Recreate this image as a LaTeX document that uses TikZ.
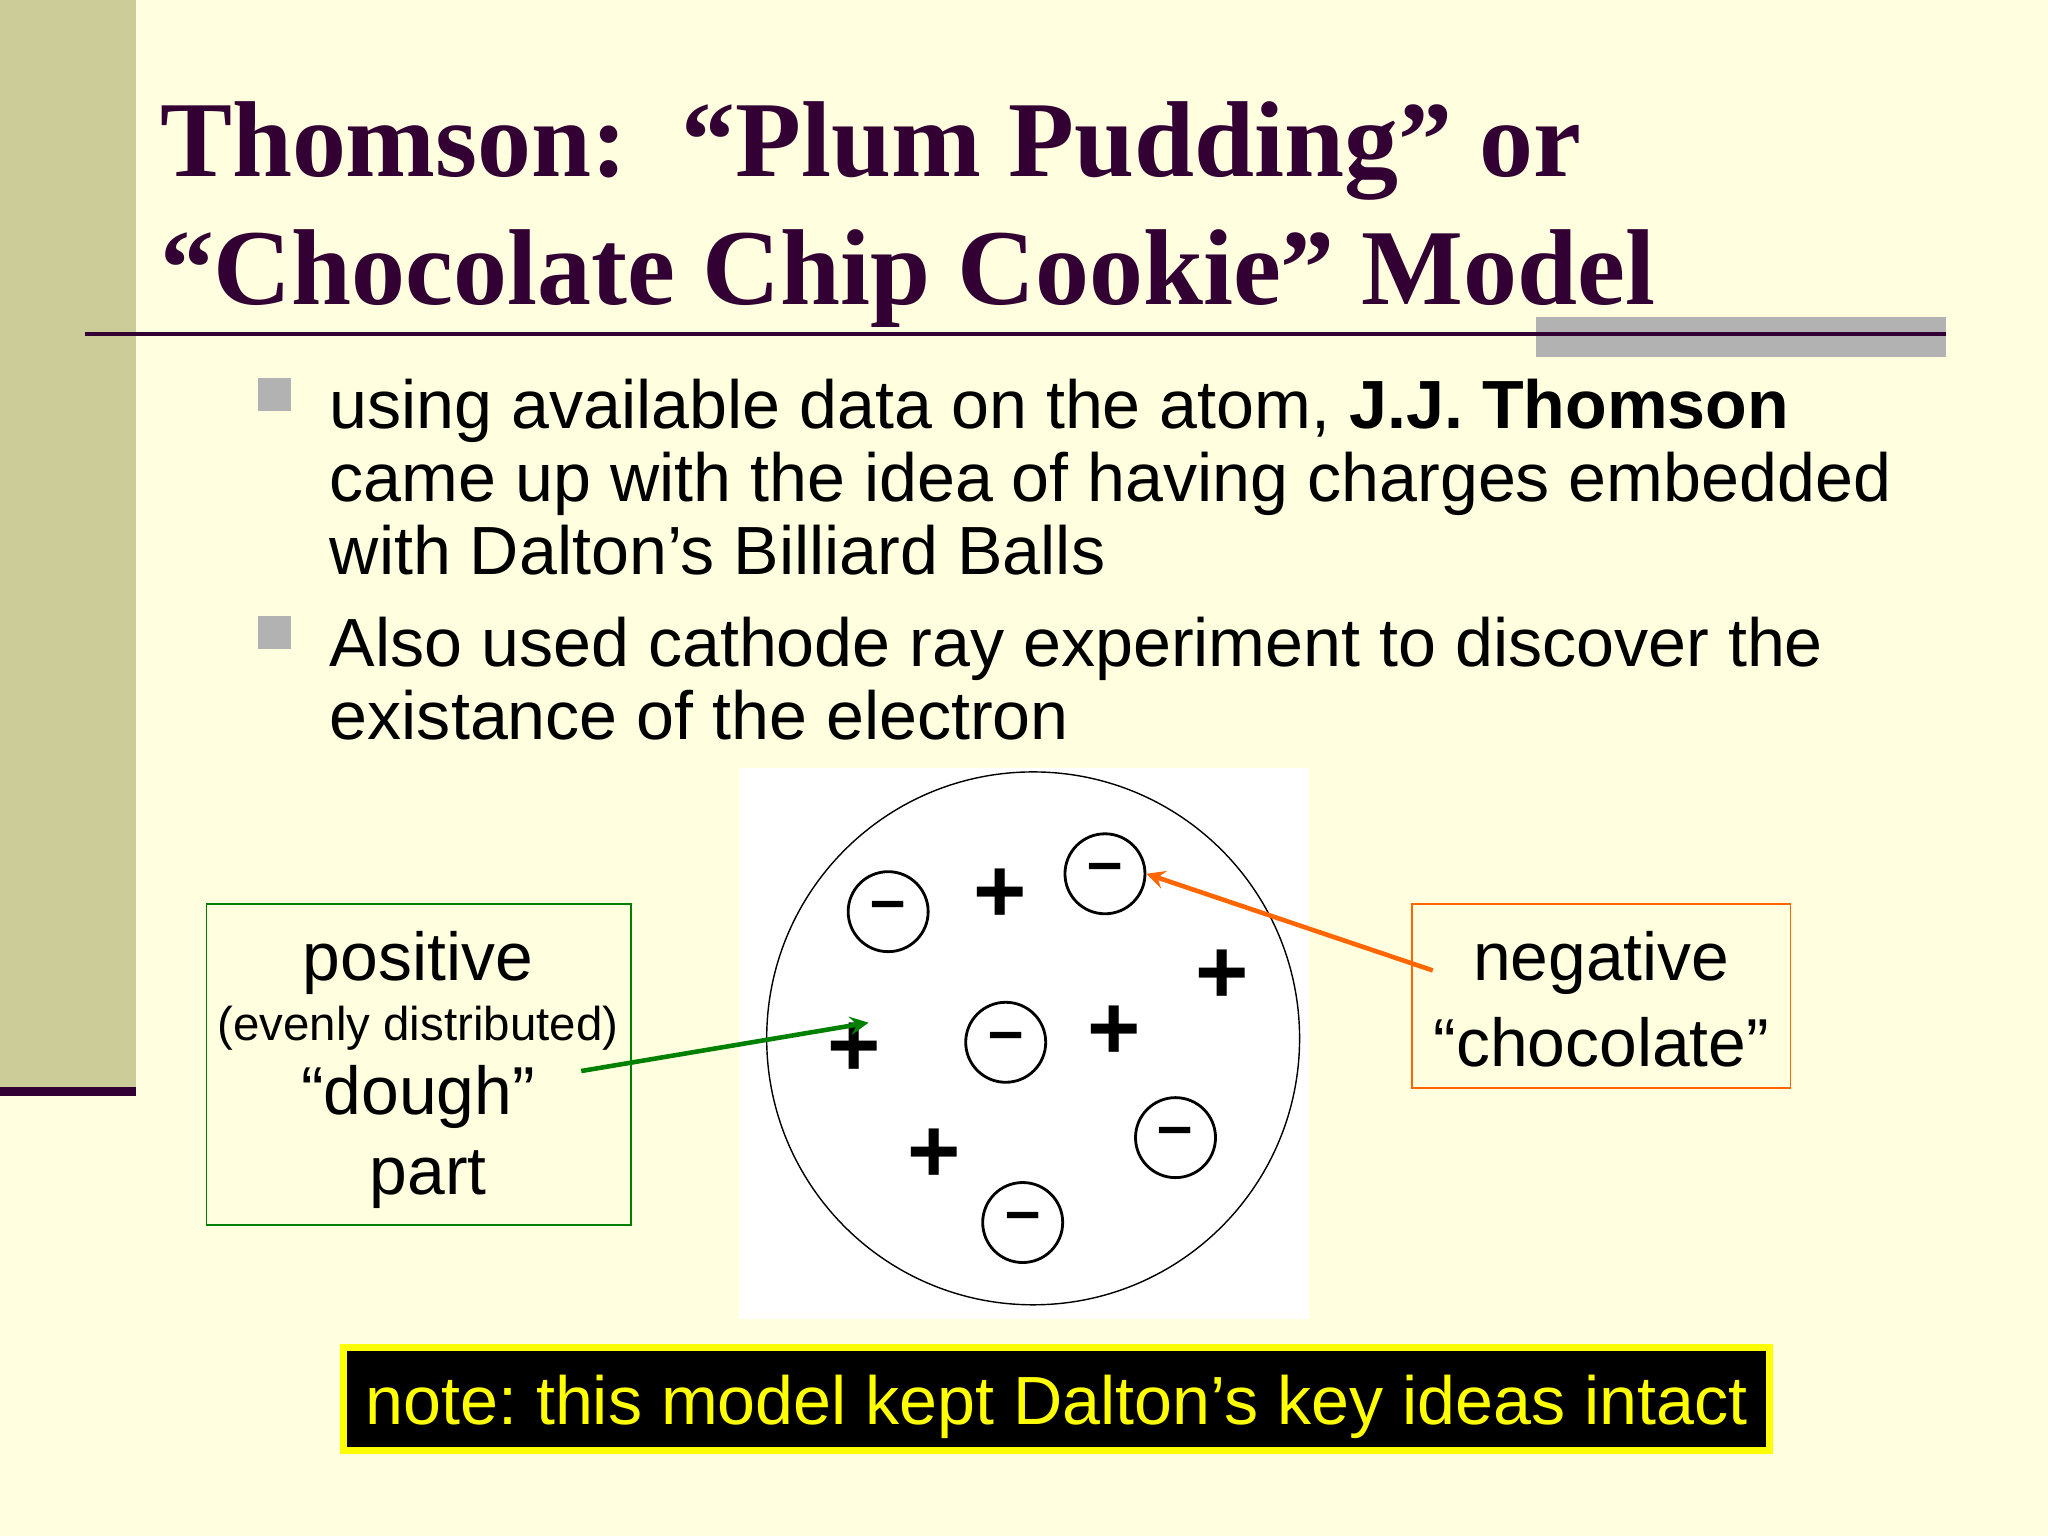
\documentclass[tikz,border=0pt]{standalone}
\usepackage{fontspec}
\setmainfont{Liberation Sans}
\newfontfamily\titlefont{Liberation Serif}
\definecolor{bg}{RGB}{255,255,224}
\definecolor{bar}{RGB}{204,204,153}
\definecolor{dp}{RGB}{51,0,51}
\definecolor{gb}{RGB}{178,178,178}
\definecolor{gr}{RGB}{0,128,0}
\definecolor{orng}{RGB}{255,102,0}
\definecolor{yl}{RGB}{255,255,0}
\frenchspacing
\begin{document}
\begin{tikzpicture}[x=0.01306cm,y=-0.01306cm,
  body/.style={anchor=base west,inner sep=0,font=\fontsize{19.4}{22}\selectfont},
  minus/.style={circle,draw,thick,minimum size=0.8cm,inner sep=0,font=\bfseries\fontsize{18}{18}\selectfont},
  plus/.style={inner sep=0,font=\bfseries\fontsize{26}{26}\selectfont},
  bul/.style={fill=gb,minimum size=0.33cm,inner sep=0},
  lab/.style={inner sep=0,font=\fontsize{19.3}{22}\selectfont}]
\fill[bg] (0,0) rectangle (1568,1176);
\useasboundingbox (0,0) rectangle (1568,1176);
\fill[bar] (0,0) rectangle (104,832);
\fill[dp] (0,832) rectangle (104,839);
\node[anchor=base west,inner sep=0,text=dp,font=\titlefont\bfseries\fontsize{30.7}{40}\selectfont] (t1) at (122,135) {Thomson:\ \ “Plum Pudding” or};
\node[anchor=base west,inner sep=0,text=dp,font=\titlefont\bfseries\fontsize{30.7}{40}\selectfont] (t2) at (122,233) {“Chocolate Chip Cookie” Model};
\fill[gb] (1176,243) rectangle (1490,273);
\draw[dp,line width=1.2pt] (65,256) -- (1490,256);
\node[bul] (b1) at (210,302) {};
\node[bul] (b2) at (210,484) {};
\node[body] (l1) at (252,328) {using available data on the atom, \textbf{J.J. Thomson}};
\node[body] (l2) at (252,384) {came up with the idea of having charges embedded};
\node[body] (l3) at (252,440) {with Dalton’s Billiard Balls};
\node[body] (l4) at (252,510) {Also used cathode ray experiment to discover the};
\node[body] (l5) at (252,566) {existance of the electron};
\fill[white] (566,588) rectangle (1002,1010);
\node[circle,draw,minimum size=408*0.01306cm,inner sep=0] (atom) at (791,795) {};
\node[minus] (m1) at (680,698) {–};
\node[minus] (m2) at (846,669) {–};
\node[minus] (m3) at (770,798) {–};
\node[minus] (m4) at (900,871) {–};
\node[minus] (m5) at (783,936) {–};
\node[plus] (p1) at (766,686) {+};
\node[plus] (p2) at (936,748) {+};
\node[plus] (p3) at (853,791) {+};
\node[plus] (p4) at (654,804) {+};
\node[plus] (p5) at (715,885) {+};
\draw[gr] (158,692) rectangle (483,938);
\node[lab] (pos) at (320,737) {positive};
\node[inner sep=0,font=\fontsize{13.5}{16}\selectfont] (ev) at (320,787) {(evenly distributed)};
\node[lab] (dough) at (320,840) {“dough”};
\node[lab] (part) at (328,903) {part};
\coordinate (gs) at (445,820);
\coordinate (ge) at (665,783);
\draw[gr,line width=1.3pt,-stealth] (gs) -- (ge);
\draw[orng] (1081,692) rectangle (1371,833);
\node[lab] (neg) at (1226,737) {negative};
\node[lab] (choc) at (1226,798) {“chocolate”};
\coordinate (os) at (1097,743);
\draw[orng,line width=1.3pt,-stealth] (os) -- (m2.east);
\node[draw=yl,line width=2pt,fill=black,minimum width=1092*0.01306cm,minimum height=79*0.01306cm] (note) at (809,1071) {};
\node[text=yl,inner sep=0,anchor=base,font=\fontsize{19.4}{22}\selectfont] (notetext) at (809,1091) {note: this model kept Dalton’s key ideas intact};
\end{tikzpicture}
\end{document}
